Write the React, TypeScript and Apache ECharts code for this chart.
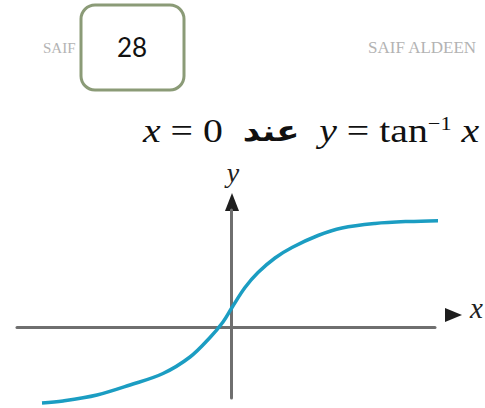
import React, { useEffect, useRef } from "react";
import * as echarts from "echarts";

// Sampled points of the inverse tangent curve (axis units, 50px per unit)
const curveX = [-3.78, -3.36, -2.68, -2.02, -1.36, -0.82, -0.42, -0.16, 0.02, 0.28, 0.54, 0.88, 1.22, 1.74, 2.22, 2.88, 3.54, 4.28];
const curveY = [-1.52, -1.48, -1.36, -1.16, -0.93, -0.6, -0.21, 0.1, 0.39, 0.79, 1.09, 1.38, 1.59, 1.83, 1.98, 2.07, 2.11, 2.13];

// Axis extents
const xRange = [-4.28, 4.08];
const yRange = [-1.42, 2.34];

const pageNumber = "28";
const watermarkLeft = "SAIF";
const watermarkRight = "SAIF ALDEEN";
const xName = "x";
const yName = "y";

export default function App() {
  const ref = useRef<HTMLDivElement>(null);

  useEffect(() => {
    document.body.style.margin = "0";
    if (!ref.current) return;
    const chart = echarts.init(ref.current, null, { renderer: "svg" });
    const serif = "'Liberation Serif', 'DejaVu Serif', serif";

    chart.setOption({
      animation: false,
      backgroundColor: "#ffffff",
      grid: { left: 17, right: 50, top: 210, bottom: 10 },
      xAxis: {
        type: "value",
        min: xRange[0],
        max: xRange[1],
        axisLine: { onZero: true, lineStyle: { color: "#6f6f6f", width: 3 } },
        axisTick: { show: false },
        axisLabel: { show: false },
        splitLine: { show: false },
      },
      yAxis: {
        type: "value",
        min: yRange[0],
        max: yRange[1],
        axisLine: { show: true, onZero: true, lineStyle: { color: "#6f6f6f", width: 3 } },
        axisTick: { show: false },
        axisLabel: { show: false },
        splitLine: { show: false },
      },
      series: [
        {
          type: "line",
          data: curveX.map((x, i) => [x, curveY[i]]),
          smooth: 0.35,
          showSymbol: false,
          clip: false,
          lineStyle: { color: "#1b9dc2", width: 3.5 },
        },
      ],
      graphic: [
        {
          type: "text",
          left: 43,
          top: 40,
          style: { text: watermarkLeft, font: `15px ${serif}`, fill: "#b3b3b3" },
        },
        {
          type: "text",
          left: 368,
          top: 39,
          style: { text: watermarkRight, font: `17px ${serif}`, fill: "#b3b3b3" },
        },
        {
          type: "rect",
          shape: { x: 81, y: 5, width: 103, height: 85, r: 14 },
          style: { fill: "#ffffff", stroke: "#8b9b77", lineWidth: 3 },
          z: 10,
        },
        {
          type: "text",
          x: 132,
          y: 47,
          z: 11,
          style: {
            text: pageNumber,
            font: "26px Lato, 'Open Sans', sans-serif",
            fill: "#111111",
            align: "center",
            verticalAlign: "middle",
          },
        },
        {
          type: "text",
          x: 143,
          y: 131,
          scaleX: 1.17,
          style: {
            text: "{i|x}{r| = 0  }{ar|عند}{r|  }{i|y}{r| = tan}{s|−1}{r| }{i|x}",
            verticalAlign: "middle",
            fill: "#111111",
            rich: {
              i: { font: `italic 34px ${serif}`, fill: "#111111" },
              r: { font: `34px ${serif}`, fill: "#111111" },
              s: { font: `19px ${serif}`, fill: "#111111", verticalAlign: "top" },
              ar: { font: "bold 29px 'DejaVu Sans', sans-serif", fill: "#111111" },
            },
          },
        },
        {
          type: "text",
          x: 233,
          y: 172,
          style: {
            text: yName,
            font: `italic 28px ${serif}`,
            fill: "#222222",
            align: "center",
            verticalAlign: "middle",
          },
        },
        {
          type: "polygon",
          shape: { points: [[232, 193], [239, 211], [225, 211]] },
          style: { fill: "#1e1e1e" },
        },
        {
          type: "polygon",
          shape: { points: [[445, 308], [462, 315], [445, 322]] },
          style: { fill: "#1e1e1e" },
        },
        {
          type: "text",
          x: 470,
          y: 308,
          style: {
            text: xName,
            font: `italic 29px ${serif}`,
            fill: "#222222",
            verticalAlign: "middle",
          },
        },
      ],
    });

    return () => chart.dispose();
  }, []);

  return <div ref={ref} style={{ width: 485, height: 408 }} />;
}
